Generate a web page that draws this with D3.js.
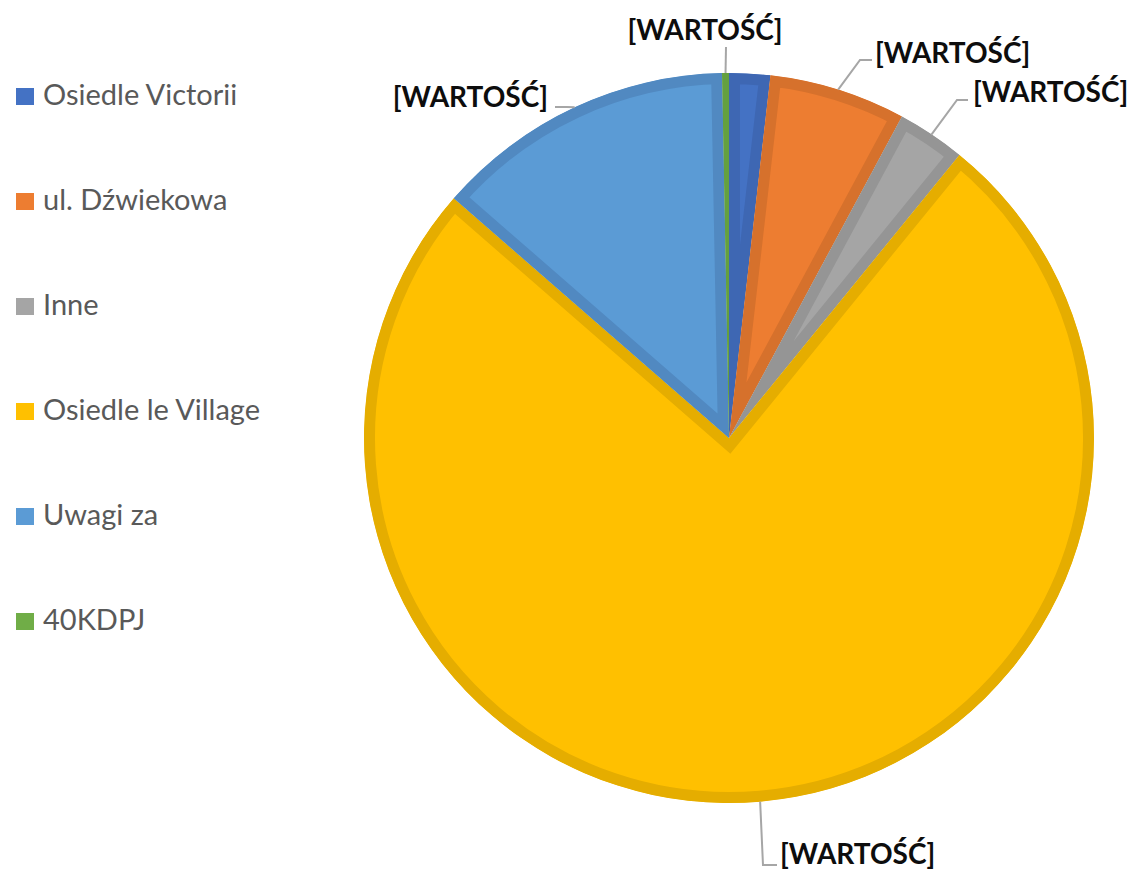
<!DOCTYPE html>
<html>
<head>
<meta charset="utf-8">
<script src="https://cdn.jsdelivr.net/npm/d3@7"></script>
<style>
  html, body { margin: 0; padding: 0; background: #fff; }
  svg { display: block; }
</style>
</head>
<body>
<svg id="chart" width="1131" height="871"></svg>
<script>
// Slices, clockwise from 12 o'clock
const categories = ["Osiedle Victorii", "ul. Dźwiekowa", "Inne", "Osiedle le Village", "Uwagi za", "40KDPJ"];
const values = [6, 20, 10, 250, 44, 1];
const fillColors = ["#4472C4", "#ED7D31", "#A5A5A5", "#FFC000", "#5B9BD5", "#70AD47"];
const borderColors = ["#3E67B3", "#D6712C", "#959595", "#E5AD00", "#5189C1", "#64A03F"];
// Data label text per slice (null = no label)
const labelTexts = [null, "[WARTOŚĆ]", "[WARTOŚĆ]", "[WARTOŚĆ]", "[WARTOŚĆ]", "[WARTOŚĆ]"];

// Label placement: text anchor point plus leader elbow/end points
const labelLayout = [
  null,
  { tx: 875, ty: 63, anchor: "start", leader: [[860, 60], [872, 60]] },
  { tx: 973, ty: 102, anchor: "start", leader: [[957, 100], [968, 100]] },
  { tx: 780, ty: 864, anchor: "start", leader: [[763, 865], [777, 865]] },
  { tx: 548, ty: 107, anchor: "end", leader: [[567, 107], [555, 107]] },
  { tx: 705, ty: 40, anchor: "middle", leader: [[726, 47]] }
];

const cx = 729, cy = 438, radius = 365, border = 11;
const svg = d3.select("#chart");
const font = "Lato, 'Open Sans', sans-serif";

const pie = d3.pie().sort(null).value(d => d)(values);
const arc = d3.arc().innerRadius(0).outerRadius(radius);

const defs = svg.append("defs");
const g = svg.append("g").attr("transform", `translate(${cx},${cy})`);

pie.forEach((d, i) => {
  const p = arc(d);
  defs.append("clipPath").attr("id", "slice" + i).append("path").attr("d", p);
  g.append("path")
    .attr("d", p)
    .attr("fill", fillColors[i])
    .attr("stroke", borderColors[i])
    .attr("stroke-width", border * 2)
    .attr("stroke-linejoin", "miter")
    .attr("clip-path", `url(#slice${i})`);
});

// Leader lines and data labels
const labels = svg.append("g");
pie.forEach((d, i) => {
  if (!labelTexts[i]) return;
  const L = labelLayout[i];
  const mid = (d.startAngle + d.endAngle) / 2;
  const [ex, ey] = d3.pointRadial(mid, radius);
  const pts = [[cx + ex, cy + ey]].concat(L.leader);
  labels.append("path")
    .attr("d", d3.line()(pts))
    .attr("fill", "none")
    .attr("stroke", "#A6A6A6")
    .attr("stroke-width", 2);
  labels.append("text")
    .attr("x", L.tx)
    .attr("y", L.ty)
    .attr("text-anchor", L.anchor)
    .attr("font-family", font)
    .attr("font-weight", "bold")
    .attr("font-size", 28)
    .attr("fill", "#0D0D0D")
    .text(labelTexts[i]);
});

// Legend
const legendY = d3.scalePoint().domain(categories).range([96.5, 621.5]);
const legend = svg.append("g");
categories.forEach((c, i) => {
  const y = legendY(c);
  legend.append("rect")
    .attr("x", 16).attr("y", y - 8.5)
    .attr("width", 18).attr("height", 17)
    .attr("fill", fillColors[i]);
  legend.append("text")
    .attr("x", 43).attr("y", y + 8.5)
    .attr("font-family", font)
    .attr("font-size", 29)
    .attr("fill", "#595959")
    .text(c);
});
</script>
</body>
</html>
